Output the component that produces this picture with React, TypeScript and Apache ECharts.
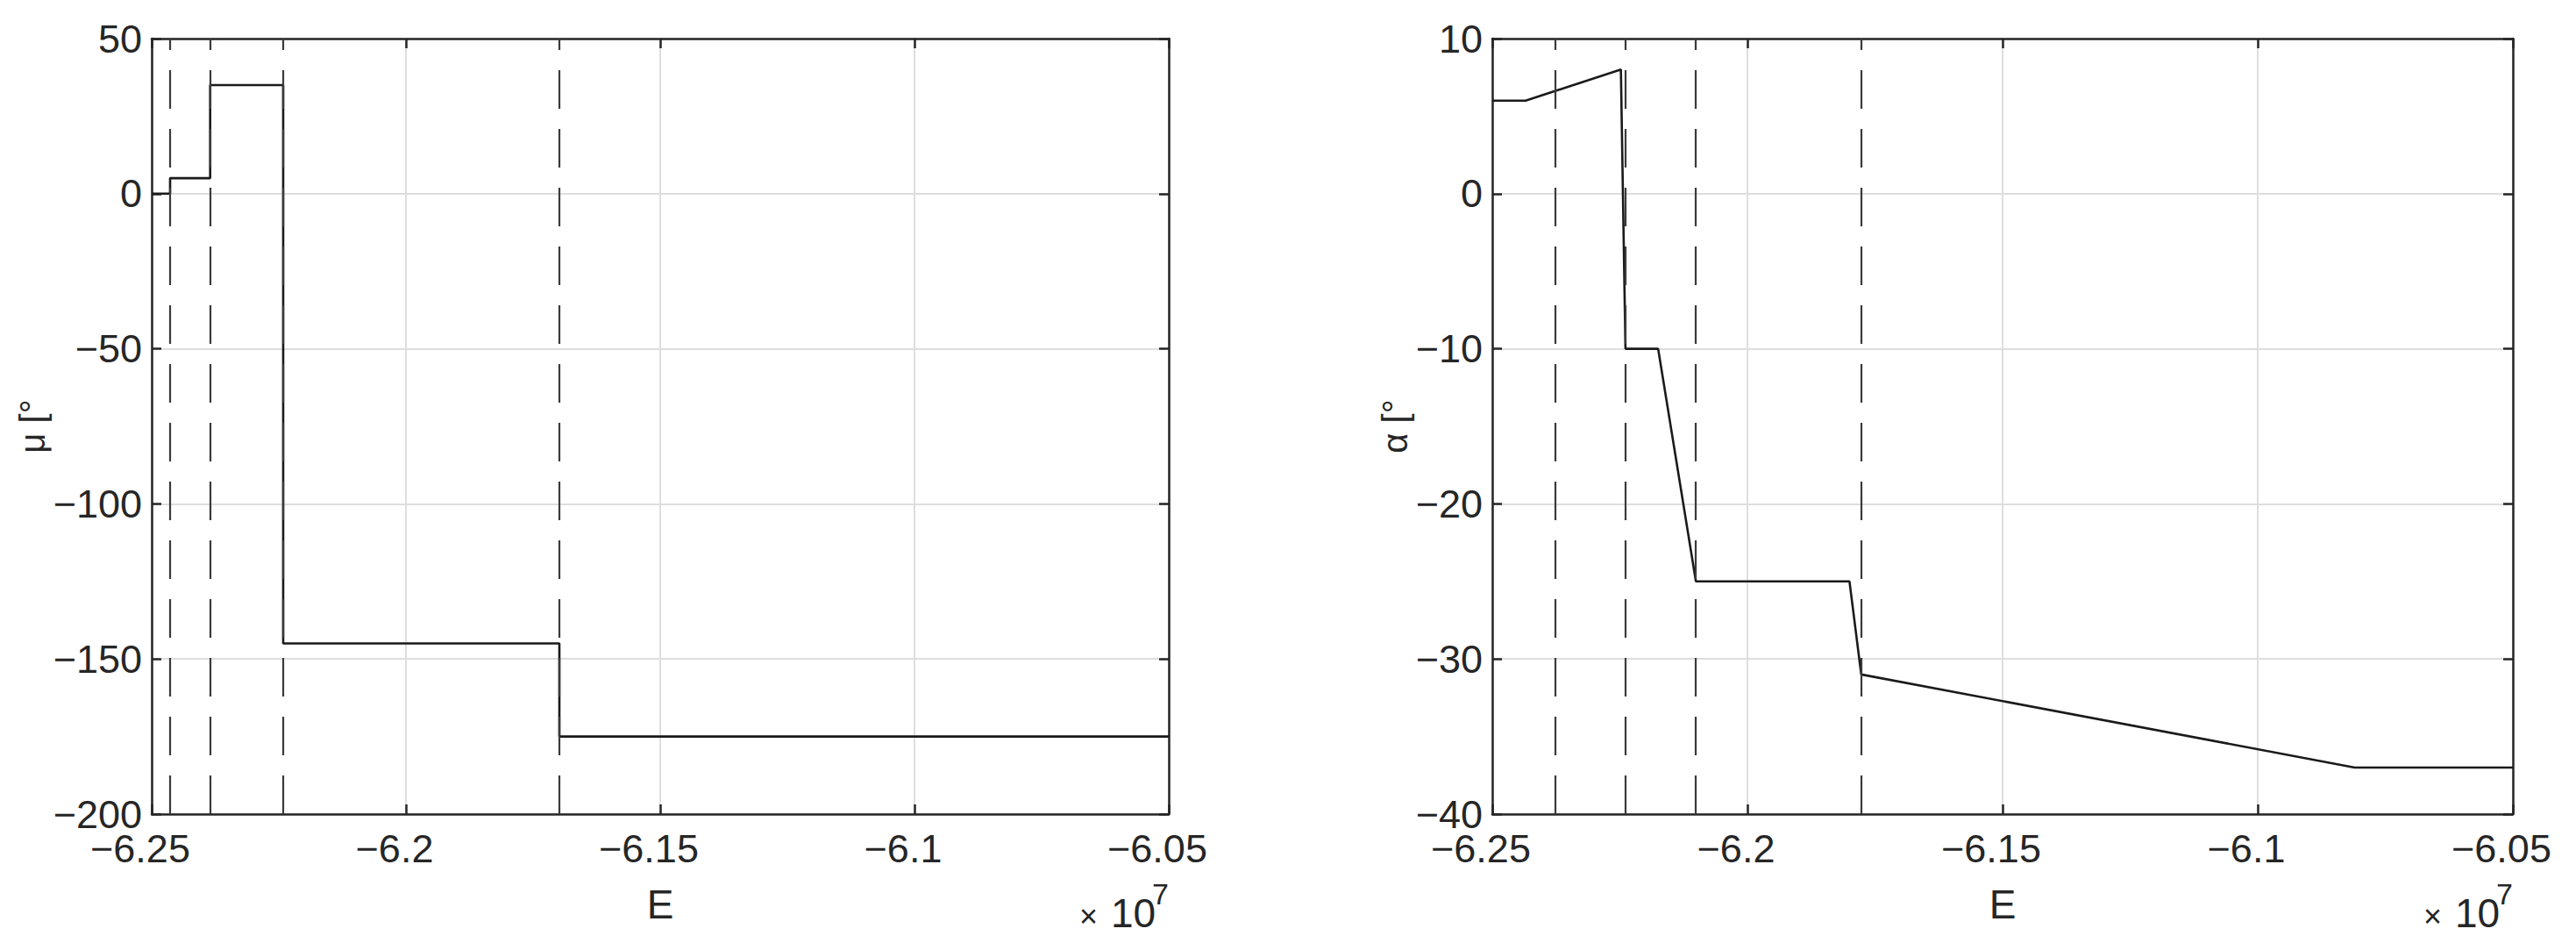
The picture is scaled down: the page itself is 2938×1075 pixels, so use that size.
import React, { useEffect, useRef } from 'react';
import * as echarts from 'echarts';

// ---- data ----
const X_MIN = -62500000;
const X_MAX = -60500000;
const X_STEP = 500000;

// left panel: mu [deg]
const muE = [-62500000, -62463800, -62463800, -62385000, -62385000, -62241400, -62241400, -61698300, -61698300, -60500000];
const muV = [0, 0, 5, 5, 35, 35, -145, -145, -175, -175];
const muEvents = [-62463800, -62385000, -62241400, -61698300];
const MU_MIN = -200;
const MU_MAX = 50;
const MU_STEP = 50;

// right panel: alpha [deg]
const alphaE = [-62500000, -62434700, -62248000, -62239000, -62175000, -62101000, -61800000, -61777000, -60810000, -60500000];
const alphaV = [6, 6, 8, -10, -10, -25, -25, -31, -37, -37];
const alphaEvents = [-62376000, -62239000, -62101000, -61777000];
const AL_MIN = -40;
const AL_MAX = 10;
const AL_STEP = 10;

const FONT = "'Liberation Sans', Arial, Helvetica, sans-serif";
const DARK = '#262626';

const fmtX = (v: number) => {
  const s = (v / 1e7).toFixed(2).replace(/0+$/, '').replace(/\.$/, '');
  return s.replace('-', '\u2212');
};
const fmtY = (v: number) => String(v).replace('-', '\u2212');

export default function App() {
  const ref = useRef<HTMLDivElement>(null);

  useEffect(() => {
    if (!ref.current) return;
    const chart = echarts.init(ref.current, undefined, { renderer: 'svg' });

    const grids = [
      { left: 173, top: 44, width: 1160, height: 884 },
      { left: 1702, top: 44, width: 1164, height: 884 },
    ];

    const axisLine = { show: true, onZero: false, lineStyle: { color: DARK, width: 2.5 } };
    const axisTick = { show: true, inside: true, length: 11, lineStyle: { color: DARK, width: 2.5 } };
    const splitLine = { show: true, lineStyle: { color: '#dedede', width: 2 } };

    const xAxes: any[] = [];
    const yAxes: any[] = [];
    const yCfg = [
      { min: MU_MIN, max: MU_MAX, step: MU_STEP, name: '\u03bc [\u00b0', gap: 108 },
      { min: AL_MIN, max: AL_MAX, step: AL_STEP, name: '\u03b1 [\u00b0', gap: 81 },
    ];
    [0, 1].forEach((g) => {
      xAxes.push({
        type: 'value', gridIndex: g, position: 'bottom', min: X_MIN, max: X_MAX, interval: X_STEP,
        axisLine, axisTick, splitLine,
        axisLabel: { show: true, margin: 17, formatter: fmtX, color: DARK, fontSize: 45, fontFamily: FONT, padding: [0, 26, 0, 0] },
        name: 'E', nameLocation: 'middle', nameGap: 80,
        nameTextStyle: { color: DARK, fontSize: 46, fontFamily: FONT },
      });
      xAxes.push({
        type: 'value', gridIndex: g, position: 'top', min: X_MIN, max: X_MAX, interval: X_STEP,
        axisLine, axisTick, splitLine: { show: false }, axisLabel: { show: false },
      });
      const c = yCfg[g];
      yAxes.push({
        type: 'value', gridIndex: g, position: 'left', min: c.min, max: c.max, interval: c.step,
        axisLine, axisTick, splitLine,
        axisLabel: { show: true, margin: 11, formatter: fmtY, color: DARK, fontSize: 45, fontFamily: FONT },
        name: c.name, nameLocation: 'middle', nameRotate: 90, nameGap: c.gap,
        nameTextStyle: { color: DARK, fontSize: 40, fontFamily: FONT },
      });
      yAxes.push({
        type: 'value', gridIndex: g, position: 'right', min: c.min, max: c.max, interval: c.step,
        axisLine, axisTick, splitLine: { show: false }, axisLabel: { show: false },
      });
    });

    const markLine = (events: number[]) => ({
      silent: true,
      symbol: ['none', 'none'],
      label: { show: false },
      lineStyle: { type: [44, 23], color: '#3a3a3a', width: 2.2 },
      data: events.map((e) => ({ xAxis: e })),
    });

    const series: any[] = [
      {
        type: 'line', xAxisIndex: 0, yAxisIndex: 0, showSymbol: false, symbol: 'none',
        data: muE.map((e, i) => [e, muV[i]]),
        lineStyle: { color: '#1a1a1a', width: 2.6 },
        markLine: markLine(muEvents),
        z: 3,
      },
      {
        type: 'line', xAxisIndex: 2, yAxisIndex: 2, showSymbol: false, symbol: 'none',
        data: alphaE.map((e, i) => [e, alphaV[i]]),
        lineStyle: { color: '#1a1a1a', width: 2.6 },
        markLine: markLine(alphaEvents),
        z: 3,
      },
    ];

    const expLabel = (R: number) => [
      { type: 'text', left: R - 102, top: 1026, style: { text: '\u00d7', fontSize: 36, fontFamily: FONT, fill: DARK } },
      { type: 'text', left: R - 66, top: 1018, style: { text: '10', fontSize: 46, fontFamily: FONT, fill: DARK } },
      { type: 'text', left: R - 19, top: 1002, style: { text: '7', fontSize: 34, fontFamily: FONT, fill: DARK } },
    ];

    chart.setOption({
      animation: false,
      backgroundColor: '#ffffff',
      grid: grids,
      xAxis: xAxes,
      yAxis: yAxes,
      series,
      graphic: [...expLabel(1333), ...expLabel(2866)],
    });

    return () => chart.dispose();
  }, []);

  return (
    <div
      ref={ref}
      style={{ position: 'fixed', left: 0, top: 0, width: 2938, height: 1075, background: '#fff' }}
    />
  );
}
